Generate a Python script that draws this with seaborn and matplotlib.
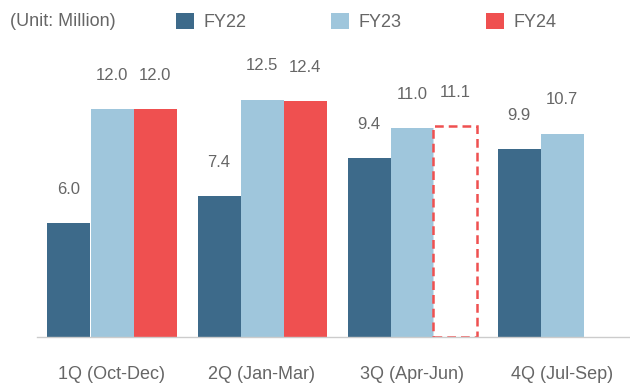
import numpy as np
import pandas as pd
import matplotlib
matplotlib.use("Agg")
import matplotlib.pyplot as plt
import seaborn as sns
from matplotlib.patches import Patch

# ============ Data ============
quarters = ["1Q (Oct-Dec)", "2Q (Jan-Mar)", "3Q (Apr-Jun)", "4Q (Jul-Sep)"]
fy22 = [6.0, 7.4, 9.4, 9.9]
fy23 = [12.0, 12.5, 11.0, 10.7]
fy24 = [12.0, 12.4, 11.1, np.nan]
fy24_forecast = [False, False, True, False]   # dashed outline = forecast
years = ["FY22", "FY23", "FY24"]
colors = {"FY22": "#3d6a8a", "FY23": "#9fc6dc", "FY24": "#ef5050"}
text_color = "#666666"

df = pd.DataFrame({"quarter": quarters, "FY22": fy22, "FY23": fy23, "FY24": fy24})
long_df = df.melt(id_vars="quarter", var_name="year", value_name="value")

sns.set_style("white")
plt.rcParams["font.family"] = ["Liberation Sans", "DejaVu Sans"]

fig = plt.figure(figsize=(6.3, 3.85), dpi=100)
ax = fig.add_axes([37 / 630, 48 / 385, 600 / 630, 14 * 19 / 385])

sns.barplot(data=long_df, x="quarter", y="value", hue="year", order=quarters,
            hue_order=years, palette=colors, width=0.86, gap=0, saturation=1,
            errorbar=None, legend=False, linewidth=0, ax=ax)

# forecast bar: dashed outline only
fy24_bars = ax.containers[2]
for bar, is_fc in zip(fy24_bars, fy24_forecast):
    if is_fc:
        bar.set_facecolor("white")
        bar.set_edgecolor(colors["FY24"])
        bar.set_linestyle((0, (3.5, 2)))
        bar.set_linewidth(1.8)

for cont in ax.containers:
    ax.bar_label(cont, fmt="%.1f", padding=19, fontsize=12, color=text_color)

ax.set_xlim(-0.5, 3.5)
ax.set_ylim(0, 14)
ax.set_xlabel("")
ax.set_ylabel("")
ax.set_yticks([])
ax.tick_params(axis="x", length=0, pad=21, labelsize=13, labelcolor=text_color)
sns.despine(ax=ax, left=True)
ax.spines["bottom"].set_color("#cccccc")
ax.spines["bottom"].set_linewidth(1)

fig.text(10 / 630, 1 - 22 / 385, "(Unit: Million)", fontsize=13, color=text_color,
         va="center", ha="left")

handles = [Patch(facecolor=colors[y], edgecolor="none", label=y) for y in years]
leg = fig.legend(handles=handles, ncol=3, loc="center left",
                 bbox_to_anchor=(160 / 630, 1 - 22 / 385), frameon=False,
                 handlelength=1.0, handleheight=1.0, handletextpad=0.5,
                 columnspacing=4.7, fontsize=13)
for t in leg.get_texts():
    t.set_color(text_color)

fig.savefig("out.png", dpi=100)
